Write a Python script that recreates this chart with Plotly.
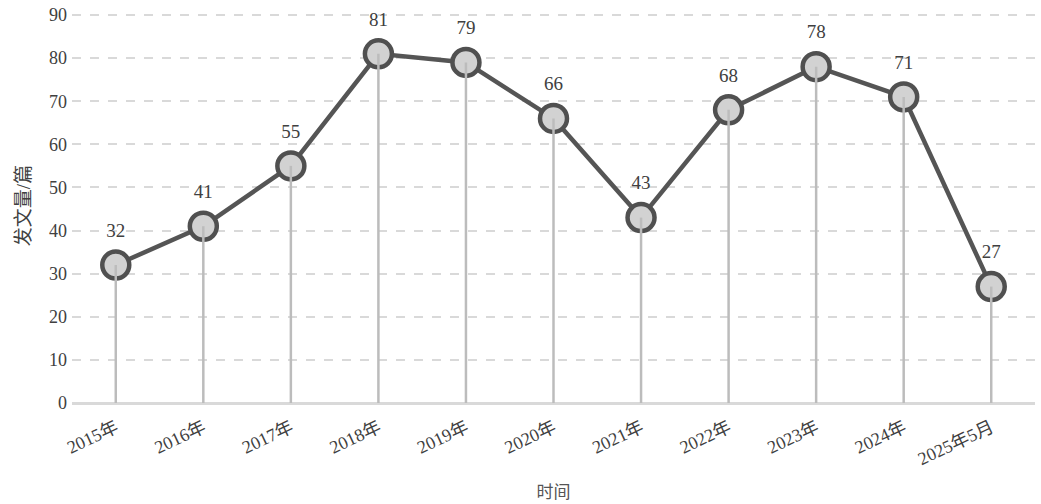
import plotly.graph_objects as go

years = ["2015年", "2016年", "2017年", "2018年", "2019年", "2020年",
         "2021年", "2022年", "2023年", "2024年", "2025年5月"]
papers = [32, 41, 55, 81, 79, 66, 43, 68, 78, 71, 27]
y_ticks = [0, 10, 20, 30, 40, 50, 60, 70, 80, 90]

FONT = "Liberation Serif, Times New Roman, Noto Sans CJK SC, serif"
INK = "#404040"

fig = go.Figure()

# value labels, lifted above the points by a transparent marker
fig.add_trace(go.Scatter(
    x=years, y=papers, mode="markers+text",
    text=[str(v) for v in papers], textposition="top center",
    textfont=dict(family=FONT, size=19, color=INK),
    marker=dict(size=36, color="rgba(0,0,0,0)"),
    cliponaxis=False, showlegend=False, hoverinfo="skip",
))

# line with grey markers
fig.add_trace(go.Scatter(
    x=years, y=papers, mode="lines+markers",
    line=dict(color="#555555", width=4.5),
    marker=dict(size=27, color="#d2d2d2", line=dict(color="#505050", width=4.5)),
    cliponaxis=False, showlegend=False,
))

# drop lines from each point down to the axis
fig.add_trace(go.Scatter(
    x=years, y=papers, mode="markers",
    marker=dict(size=1, color="rgba(0,0,0,0)"),
    error_y=dict(type="data", symmetric=False, array=[0] * len(papers),
                 arrayminus=papers, color="#bcbcbc", thickness=2.5, width=0),
    showlegend=False, hoverinfo="skip",
))

# y range runs a little past 90 so the top gridline and its label still show
fig.update_layout(
    width=1041, height=504,
    margin=dict(l=72, r=6, t=8, b=101),
    paper_bgcolor="white", plot_bgcolor="white",
    font=dict(family=FONT, size=17, color=INK),
    xaxis=dict(
        type="category", range=[-0.5, 10.5], tickangle=-25, automargin=False,
        showgrid=False, showline=False, ticks="", ticklabelstandoff=10,
        tickfont=dict(family=FONT, size=18, color=INK),
        title=dict(text="时间", font=dict(family=FONT, size=17, color="#555555"), standoff=18),
    ),
    yaxis=dict(
        range=[0, 91.62], tickvals=y_ticks, ticks="", automargin=False,
        showgrid=True, gridcolor="#d9d9d9", gridwidth=2, griddash="dash",
        zeroline=True, zerolinecolor="#d9d9d9", zerolinewidth=3,
        showline=False, ticklabelstandoff=4, ticklabeloverflow="allow",
        tickfont=dict(family=FONT, size=18, color=INK),
        title=dict(text="发文量/篇", font=dict(family=FONT, size=19, color=INK), standoff=13),
    ),
)

# drop the browser's default 8px body margin so the figure fills the window
fig.write_html(
    "out.html",
    config={"displayModeBar": False},
    post_script="document.body.style.margin = '0';",
)
